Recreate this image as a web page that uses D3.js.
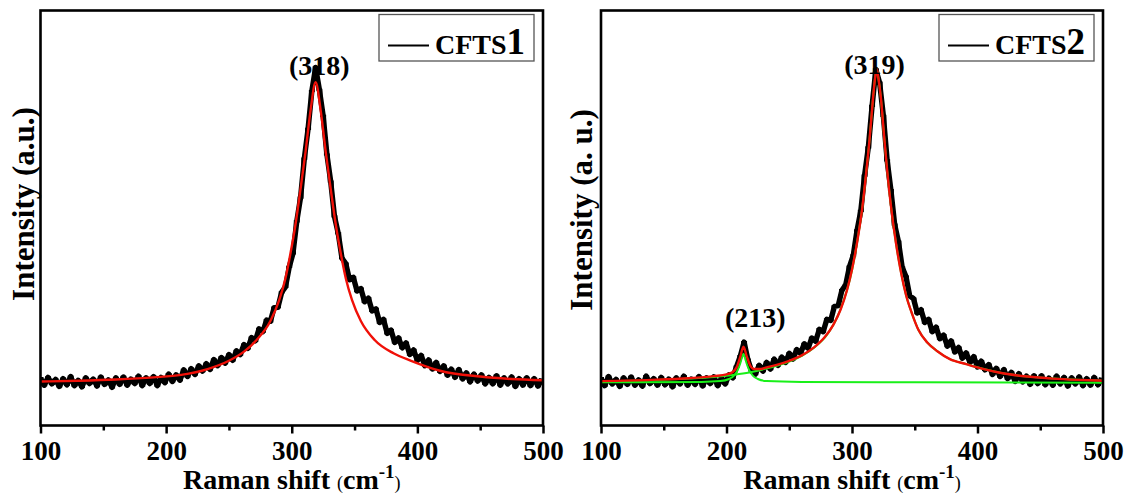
<!DOCTYPE html>
<html>
<head>
<meta charset="utf-8">
<script src="https://cdn.jsdelivr.net/npm/d3@7"></script>
<style>
  html, body { margin: 0; padding: 0; background: #fff; }
  svg { display: block; }
  text { font-family: "Liberation Serif", "Times New Roman", serif; font-weight: bold; fill: #000; }
</style>
</head>
<body>
<div id="chart"></div>
<script>
// raman spectra, sampled every 3 cm-1 starting at 100 cm-1
const shiftStart = 100;
const shiftStep = 3;

const cfts1Intensity = [
  11.4, 9.7, 11.6, 10.0, 11.1, 9.4, 11.3, 9.8, 11.8, 9.6, 10.9, 9.3, 11.5, 10.1, 11.2, 9.5, 11.7, 9.9, 11.0, 9.2,
  11.5, 9.9, 11.7, 9.7, 11.2, 10.1, 11.9, 9.6, 11.5, 10.1, 11.8, 9.6, 11.6, 10.3, 12.4, 10.6, 12.2, 10.9, 13.4, 11.8,
  13.7, 12.3, 14.4, 13.1, 14.9, 13.5, 15.9, 14.4, 16.4, 15.0, 17.1, 15.7, 18.0, 17.1, 19.5, 18.6, 21.2, 20.4, 23.3, 22.6,
  25.4, 25.1, 28.4, 28.5, 32.1, 33.4, 38.2, 41.5, 49.2, 54.9, 64.3, 71.5, 80.6, 86.3, 80.9, 74.6, 65.3, 58.8, 50.4, 46.3,
  40.3, 39.0, 35.1, 35.7, 32.4, 33.0, 29.8, 30.7, 27.6, 28.1, 24.8, 25.6, 22.2, 23.0, 20.0, 21.1, 18.7, 19.9, 17.1, 18.2,
  15.7, 16.9, 14.4, 15.8, 13.6, 15.2, 13.0, 14.4, 12.1, 13.6, 11.6, 13.5, 11.2, 12.7, 10.5, 12.4, 10.7, 12.2, 10.0, 11.6,
  10.0, 12.0, 9.7, 11.5, 10.0, 11.7, 9.4, 11.3, 9.7, 11.5, 9.6, 11.3, 9.5, 11.1
];

const cfts2Intensity = [
  11.4, 9.6, 11.8, 10.0, 11.1, 9.4, 11.5, 9.9, 11.7, 9.7, 11.0, 9.5, 11.9, 10.1, 11.3, 9.7, 11.6, 9.8, 11.2, 9.3,
  11.5, 10.0, 11.9, 9.7, 11.2, 9.9, 11.8, 9.5, 11.5, 10.1, 11.7, 9.6, 11.4, 10.0, 12.2, 11.5, 14.2, 16.7, 20.1, 15.9,
  13.1, 12.4, 14.5, 13.1, 15.2, 13.6, 16.0, 14.5, 16.5, 15.2, 17.4, 16.0, 18.3, 17.4, 19.7, 18.6, 21.1, 20.3, 23.2, 22.6,
  25.6, 25.3, 28.7, 28.9, 32.6, 33.9, 38.3, 41.0, 47.0, 51.7, 60.2, 67.0, 77.0, 85.8, 82.6, 74.6, 63.9, 56.7, 48.4, 44.3,
  38.1, 35.9, 31.2, 30.6, 27.1, 27.9, 24.8, 25.6, 22.6, 23.7, 20.9, 21.8, 19.1, 20.4, 17.7, 18.8, 16.2, 17.5, 15.2, 16.6,
  14.1, 15.5, 13.4, 14.7, 12.3, 13.8, 11.8, 13.5, 11.3, 12.8, 10.6, 12.5, 10.5, 11.9, 9.9, 12.0, 10.1, 12.0, 9.8, 11.4,
  9.7, 11.9, 10.0, 11.6, 9.5, 11.5, 10.0, 11.7, 9.6, 11.3, 9.7, 11.6, 9.8, 11.3
];

// fitted curves
const fit1Shift = [100, 130, 160, 190, 212, 233, 250, 262, 272, 283, 290, 295, 299, 303, 307, 311, 315, 319, 323, 327, 331, 335, 339, 343, 348, 355, 366, 381, 395, 418, 450, 475, 500];
const fit1Value = [10.6, 10.8, 11.1, 11.6, 12.2, 13.6, 15.6, 17.8, 20.6, 25.2, 30.2, 35.5, 41.5, 48.5, 57.0, 66.0, 76.0, 82.7, 76.0, 66.0, 57.0, 48.5, 41.5, 35.5, 30.2, 25.2, 20.6, 17.4, 15.6, 13.2, 11.8, 11.2, 10.9];

const fit2Shift = [100, 140, 170, 190, 200, 205, 208, 211, 213.5, 216, 219, 222, 226, 232, 240, 250, 260, 270, 278, 285, 291, 296, 300, 304, 308, 311, 314, 316.5, 318.5, 319.7, 321, 323, 325.5, 328, 331, 335, 339, 343, 348, 353, 360, 368, 378, 391, 405, 420, 440, 460, 480, 500];
const fit2Value = [10.7, 11.0, 11.4, 11.9, 12.3, 12.9, 14.0, 16.6, 19.0, 16.8, 14.4, 13.6, 13.6, 14.0, 14.6, 15.6, 16.9, 18.9, 21.2, 24.2, 28.0, 32.6, 37.6, 44.0, 52.0, 60.0, 69.0, 78.0, 84.0, 85.9, 83.8, 79.0, 70.0, 61.5, 53.0, 44.0, 37.0, 31.5, 26.8, 23.0, 20.0, 17.9, 16.0, 14.8, 13.6, 12.6, 11.8, 11.3, 11.0, 10.8];

// CFTS2 components
const peak213Shift = [100, 180, 195, 202, 206, 209, 211, 212.5, 213.5, 214.5, 216, 218, 221, 225, 232, 260, 350, 500];
const peak213Value = [10.4, 10.5, 10.7, 11.2, 12.0, 13.4, 15.0, 16.6, 17.3, 16.6, 15.0, 13.4, 12.0, 11.2, 10.7, 10.5, 10.4, 10.3];

const peak319Shift = [100, 140, 170, 190, 200, 210, 220, 230, 240, 250, 260, 270, 280, 290, 300, 304, 308, 311, 314, 316.5, 318.5, 319.7, 321, 323, 325.5, 328, 331, 335, 339, 343, 348, 353, 360, 368, 378, 391, 405, 420, 440, 460, 480, 500];
const peak319Value = [10.6, 10.9, 11.3, 11.7, 12.0, 12.4, 12.9, 13.6, 14.4, 15.4, 16.8, 18.8, 21.8, 27.3, 37.4, 44.0, 52.0, 60.0, 69.0, 78.0, 84.0, 85.9, 83.8, 79.0, 70.0, 61.5, 53.0, 44.0, 37.0, 31.5, 26.8, 23.0, 20.0, 17.9, 16.0, 14.8, 13.6, 12.6, 11.8, 11.3, 11.0, 10.8];

const xTicks = [100, 200, 300, 400, 500];
const xMinorTicks = [150, 250, 350, 450];

const peakLabels1 = [{ text: '(318)', shift: 322, level: 84.5 }];
const peakLabels2 = [{ text: '(319)', shift: 318, level: 84.7 }, { text: '(213)', shift: 223, level: 23.8 }];

const width = 1129;
const height = 497;

const svg = d3.select('#chart')
  .append('svg')
  .attr('width', width)
  .attr('height', height);

function toPoints(xs, ys) {
  return xs.map((s, i) => ({ s: s, v: ys[i] }));
}

function spectrumPoints(values) {
  return values.map((v, i) => ({ s: shiftStart + i * shiftStep, v: v }));
}

function drawPanel(opts) {
  const { left, right, top, bottom } = opts;
  const g = svg.append('g');

  const x = d3.scaleLinear().domain([100, 500]).range([left, right]);
  const y = d3.scaleLinear().domain([0, 100]).range([bottom, top]);

  const clipId = 'clip' + opts.id;
  svg.append('clipPath').attr('id', clipId)
    .append('rect')
    .attr('x', left).attr('y', top)
    .attr('width', right - left).attr('height', bottom - top);

  const plot = g.append('g').attr('clip-path', `url(#${clipId})`);

  const line = d3.line().x(d => x(d.s)).y(d => y(d.v));
  const stepped = d3.line().x(d => x(d.s)).y(d => y(d.v)).curve(d3.curveStep);
  const smooth = d3.line().x(d => x(d.s)).y(d => y(d.v)).curve(d3.curveMonotoneX);

  // noisy measured spectrum: thick band + jagged stepped trace
  const spec = spectrumPoints(opts.spectrum);
  plot.append('path')
    .datum(spec)
    .attr('fill', 'none')
    .attr('stroke', '#000')
    .attr('stroke-width', 5.4)
    .attr('stroke-linejoin', 'round')
    .attr('d', line);
  plot.append('path')
    .datum(spec)
    .attr('fill', 'none')
    .attr('stroke', '#000')
    .attr('stroke-width', 2.2)
    .attr('d', stepped);

  (opts.components || []).forEach(c => {
    plot.append('path')
      .datum(c)
      .attr('fill', 'none')
      .attr('stroke', '#19f019')
      .attr('stroke-width', 2)
      .attr('d', smooth);
  });

  plot.append('path')
    .datum(opts.fit)
    .attr('fill', 'none')
    .attr('stroke', '#f01008')
    .attr('stroke-width', 2.4)
    .attr('d', smooth);

  // bottom axis, major + minor ticks
  const axisG = g.append('g').attr('transform', `translate(0,${bottom})`)
    .call(d3.axisBottom(x).tickValues(xTicks).tickSize(8).tickFormat(d3.format('d')));
  axisG.select('.domain').remove();
  axisG.selectAll('line').attr('stroke', '#000').attr('stroke-width', 2.5);
  axisG.selectAll('text')
    .attr('y', 34).attr('dy', null)
    .style('font-size', '27px')
    .style('font-family', '"Liberation Serif", "Times New Roman", serif')
    .style('font-weight', 'bold')
    .attr('fill', '#000');

  const minorG = g.append('g').attr('transform', `translate(0,${bottom})`)
    .call(d3.axisBottom(x).tickValues(xMinorTicks).tickSize(5).tickFormat(''));
  minorG.select('.domain').remove();
  minorG.selectAll('line').attr('stroke', '#000').attr('stroke-width', 2.5);

  // frame
  g.append('rect')
    .attr('x', left).attr('y', top)
    .attr('width', right - left).attr('height', bottom - top)
    .attr('fill', 'none')
    .attr('stroke', '#000')
    .attr('stroke-width', 2.6);

  // x title
  const xt = g.append('text')
    .attr('x', (left + right) / 2)
    .attr('y', 489)
    .attr('text-anchor', 'middle')
    .style('font-size', '28px');
  xt.append('tspan').text('Raman shift ');
  xt.append('tspan').style('font-size', '18px').style('font-weight', 'normal').text('(');
  xt.append('tspan').text('cm');
  xt.append('tspan').style('font-size', '19px').attr('dy', -11).text('-1');
  xt.append('tspan').style('font-size', '18px').style('font-weight', 'normal').attr('dy', 11).text(')');

  // y title
  g.append('text')
    .attr('transform', `translate(${opts.yTitleX},${opts.yTitleY}) rotate(-90)`)
    .attr('text-anchor', 'middle')
    .style('font-size', '31px')
    .text(opts.yTitle);

  // peak labels
  opts.labels.forEach(l => {
    g.append('text')
      .attr('x', x(l.shift))
      .attr('y', y(l.level))
      .attr('text-anchor', 'middle')
      .style('font-size', '28px')
      .text(l.text);
  });

  // legend
  const lg = g.append('g').attr('transform', `translate(${right - 164},${top + 4})`);
  lg.append('rect')
    .attr('width', 155).attr('height', 46.5)
    .attr('fill', '#fff')
    .attr('stroke', '#555')
    .attr('stroke-width', 1.3);
  lg.append('line')
    .attr('x1', 9).attr('x2', 50)
    .attr('y1', 31).attr('y2', 31)
    .attr('stroke', '#000').attr('stroke-width', 2);
  const lt = lg.append('text').attr('x', 56).attr('y', 39).style('font-size', '28px');
  lt.append('tspan').text(opts.legendName);
  lt.append('tspan').style('font-size', '37px').text(opts.legendNum);
}

drawPanel({
  id: 1,
  left: 40.5, right: 543, top: 10.5, bottom: 425.5,
  spectrum: cfts1Intensity,
  fit: toPoints(fit1Shift, fit1Value),
  labels: peakLabels1,
  yTitle: 'Intensity (a.u.)',
  yTitleX: 34,
  yTitleY: 204,
  legendName: 'CFTS',
  legendNum: '1'
});

drawPanel({
  id: 2,
  left: 601, right: 1103, top: 10.5, bottom: 425.5,
  spectrum: cfts2Intensity,
  components: [toPoints(peak213Shift, peak213Value), toPoints(peak319Shift, peak319Value)],
  fit: toPoints(fit2Shift, fit2Value),
  labels: peakLabels2,
  yTitle: 'Intensity (a. u.)',
  yTitleX: 592,
  yTitleY: 210,
  legendName: 'CFTS',
  legendNum: '2'
});
</script>
</body>
</html>
